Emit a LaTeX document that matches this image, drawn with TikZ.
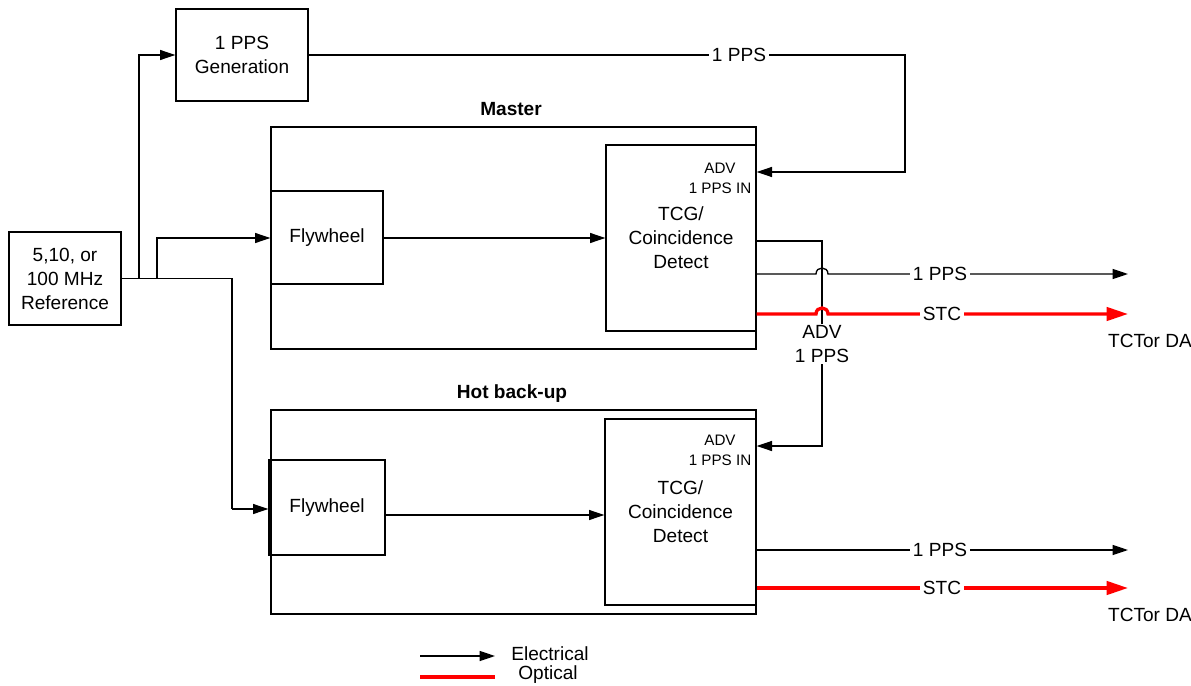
\documentclass[tikz,border=0pt]{standalone}
\usepackage{fontspec}
\setmainfont{Liberation Sans}
\usetikzlibrary{arrows.meta}
\definecolor{optred}{RGB}{255,0,0}
\begin{document}
\begin{tikzpicture}[x=0.75pt,y=-0.75pt,
  every node/.style={font=\fontsize{14.3}{18}\selectfont, inner sep=0pt},
  box/.style={draw, line width=1pt, align=center},
  small/.style={font=\fontsize{11.4}{15}\selectfont, align=center},
  elec/.style={line width=1pt, -{Triangle[length=11.5pt,width=7.5pt]}},
  wire/.style={line width=1pt},
  opt/.style={draw=optred, line width=2.5pt, -{Triangle[length=16pt,width=10pt,fill=optred]}},
  optline/.style={draw=optred, line width=2.5pt},
  lbl/.style={fill=white, inner xsep=2pt, inner ysep=1pt},
  title/.style={font=\fontsize{14.3}{18}\selectfont\bfseries}
]
\useasboundingbox (0,0) rectangle (1191,685);

% boxes
\node[box, minimum width=84pt, minimum height=69.75pt] (ref) at (65,278.5) {5,10, or\\100 MHz\\Reference};
\node[box, minimum width=99pt, minimum height=69pt] (gen) at (242,55) {1 PPS\\Generation};
\node[box, minimum width=363.75pt, minimum height=166.5pt] (master) at (513.5,238) {};
\node[title] (mtitle) at (511,109) {Master};
\node[box, minimum width=84pt, minimum height=69.75pt] (flyM) at (327,237.5) {Flywheel};
\node[box, minimum width=112.5pt, minimum height=139.5pt] (tcgM) at (681,238) {TCG/\\Coincidence\\Detect};
\node[small] (advinM) at (720,178) {ADV\\1 PPS IN};

\node[box, minimum width=363.75pt, minimum height=153pt] (hot) at (513.5,512) {};
\node[title] (htitle) at (512,394) {Hot back-up};
\node[box, minimum width=87pt, minimum height=71.25pt] (flyH) at (327,507.5) {Flywheel};
\node[box, minimum width=113.25pt, minimum height=139.5pt] (tcgH) at (680.5,512) {TCG/\\Coincidence\\Detect};
\node[small] (advinH) at (720,450) {ADV\\1 PPS IN};

% reference distribution
\coordinate (s1) at (139,278.5);
\coordinate (s2) at (157,278.5);
\draw[wire] (ref.east) -- (232,278.5) -- (232,509);
\draw[elec] (232,509) -- (flyH.west |- 0,509);
\draw[elec] (s1) -- (139,55) -- (gen.west);
\draw[elec] (s2) -- (157,238) -- (flyM.west |- 0,238);

% flywheel to TCG
\draw[elec] (flyM.east |- 0,238) -- (tcgM.west |- 0,238);
\draw[elec] (flyH.east |- 0,515) -- (tcgH.west |- 0,515);

% 1 PPS generation to master ADV in
\draw[elec] (gen.east) -- (905,55) -- (905,172) -- (tcgM.east |- 0,172);
\node[lbl] (pps0) at (739,55) {1 PPS};

% ADV 1 PPS chain
\node[align=center, inner sep=1pt] (adv) at (822,344) {ADV\\1 PPS};
\draw[wire] (tcgM.east |- 0,241) -- (822,241) -- (adv.north);
\draw[elec] (adv.south) -- (822,446) -- (tcgH.east |- 0,446);

% master outputs
\coordinate (endM1) at (1128,274);
\coordinate (endM2) at (1128,314);
\draw[elec] (tcgM.east |- 0,274) -- (816,274) .. controls (816,266) and (828,266) .. (828,274) -- (endM1);
\node[lbl] (ppsM) at (940,274) {1 PPS};
\draw[opt] (tcgM.east |- 0,314) -- (816,314) .. controls (816,306) and (828,306) .. (828,314) -- (endM2);
\node[lbl] (stcM) at (942,314) {STC};
\node (dstM) at (1150,341) {TCTor DA};

% hot outputs
\coordinate (endH1) at (1128,550);
\coordinate (endH2) at (1128,588);
\draw[elec] (tcgH.east |- 0,550) -- (endH1);
\node[lbl] (ppsH) at (940,550) {1 PPS};
\draw[opt] (tcgH.east |- 0,588) -- (endH2);
\node[lbl] (stcH) at (942,588) {STC};
\node (dstH) at (1150,615) {TCTor DA};

% legend
\coordinate (le1) at (420,656);
\coordinate (le2) at (495,656);
\coordinate (lo1) at (420,677);
\coordinate (lo2) at (495,677);
\draw[elec] (le1) -- (le2);
\draw[optline] (lo1) -- (lo2);
\node (elecT) at (550,654) {Electrical};
\node (optT) at (548,675) {Optical};
\end{tikzpicture}
\end{document}
